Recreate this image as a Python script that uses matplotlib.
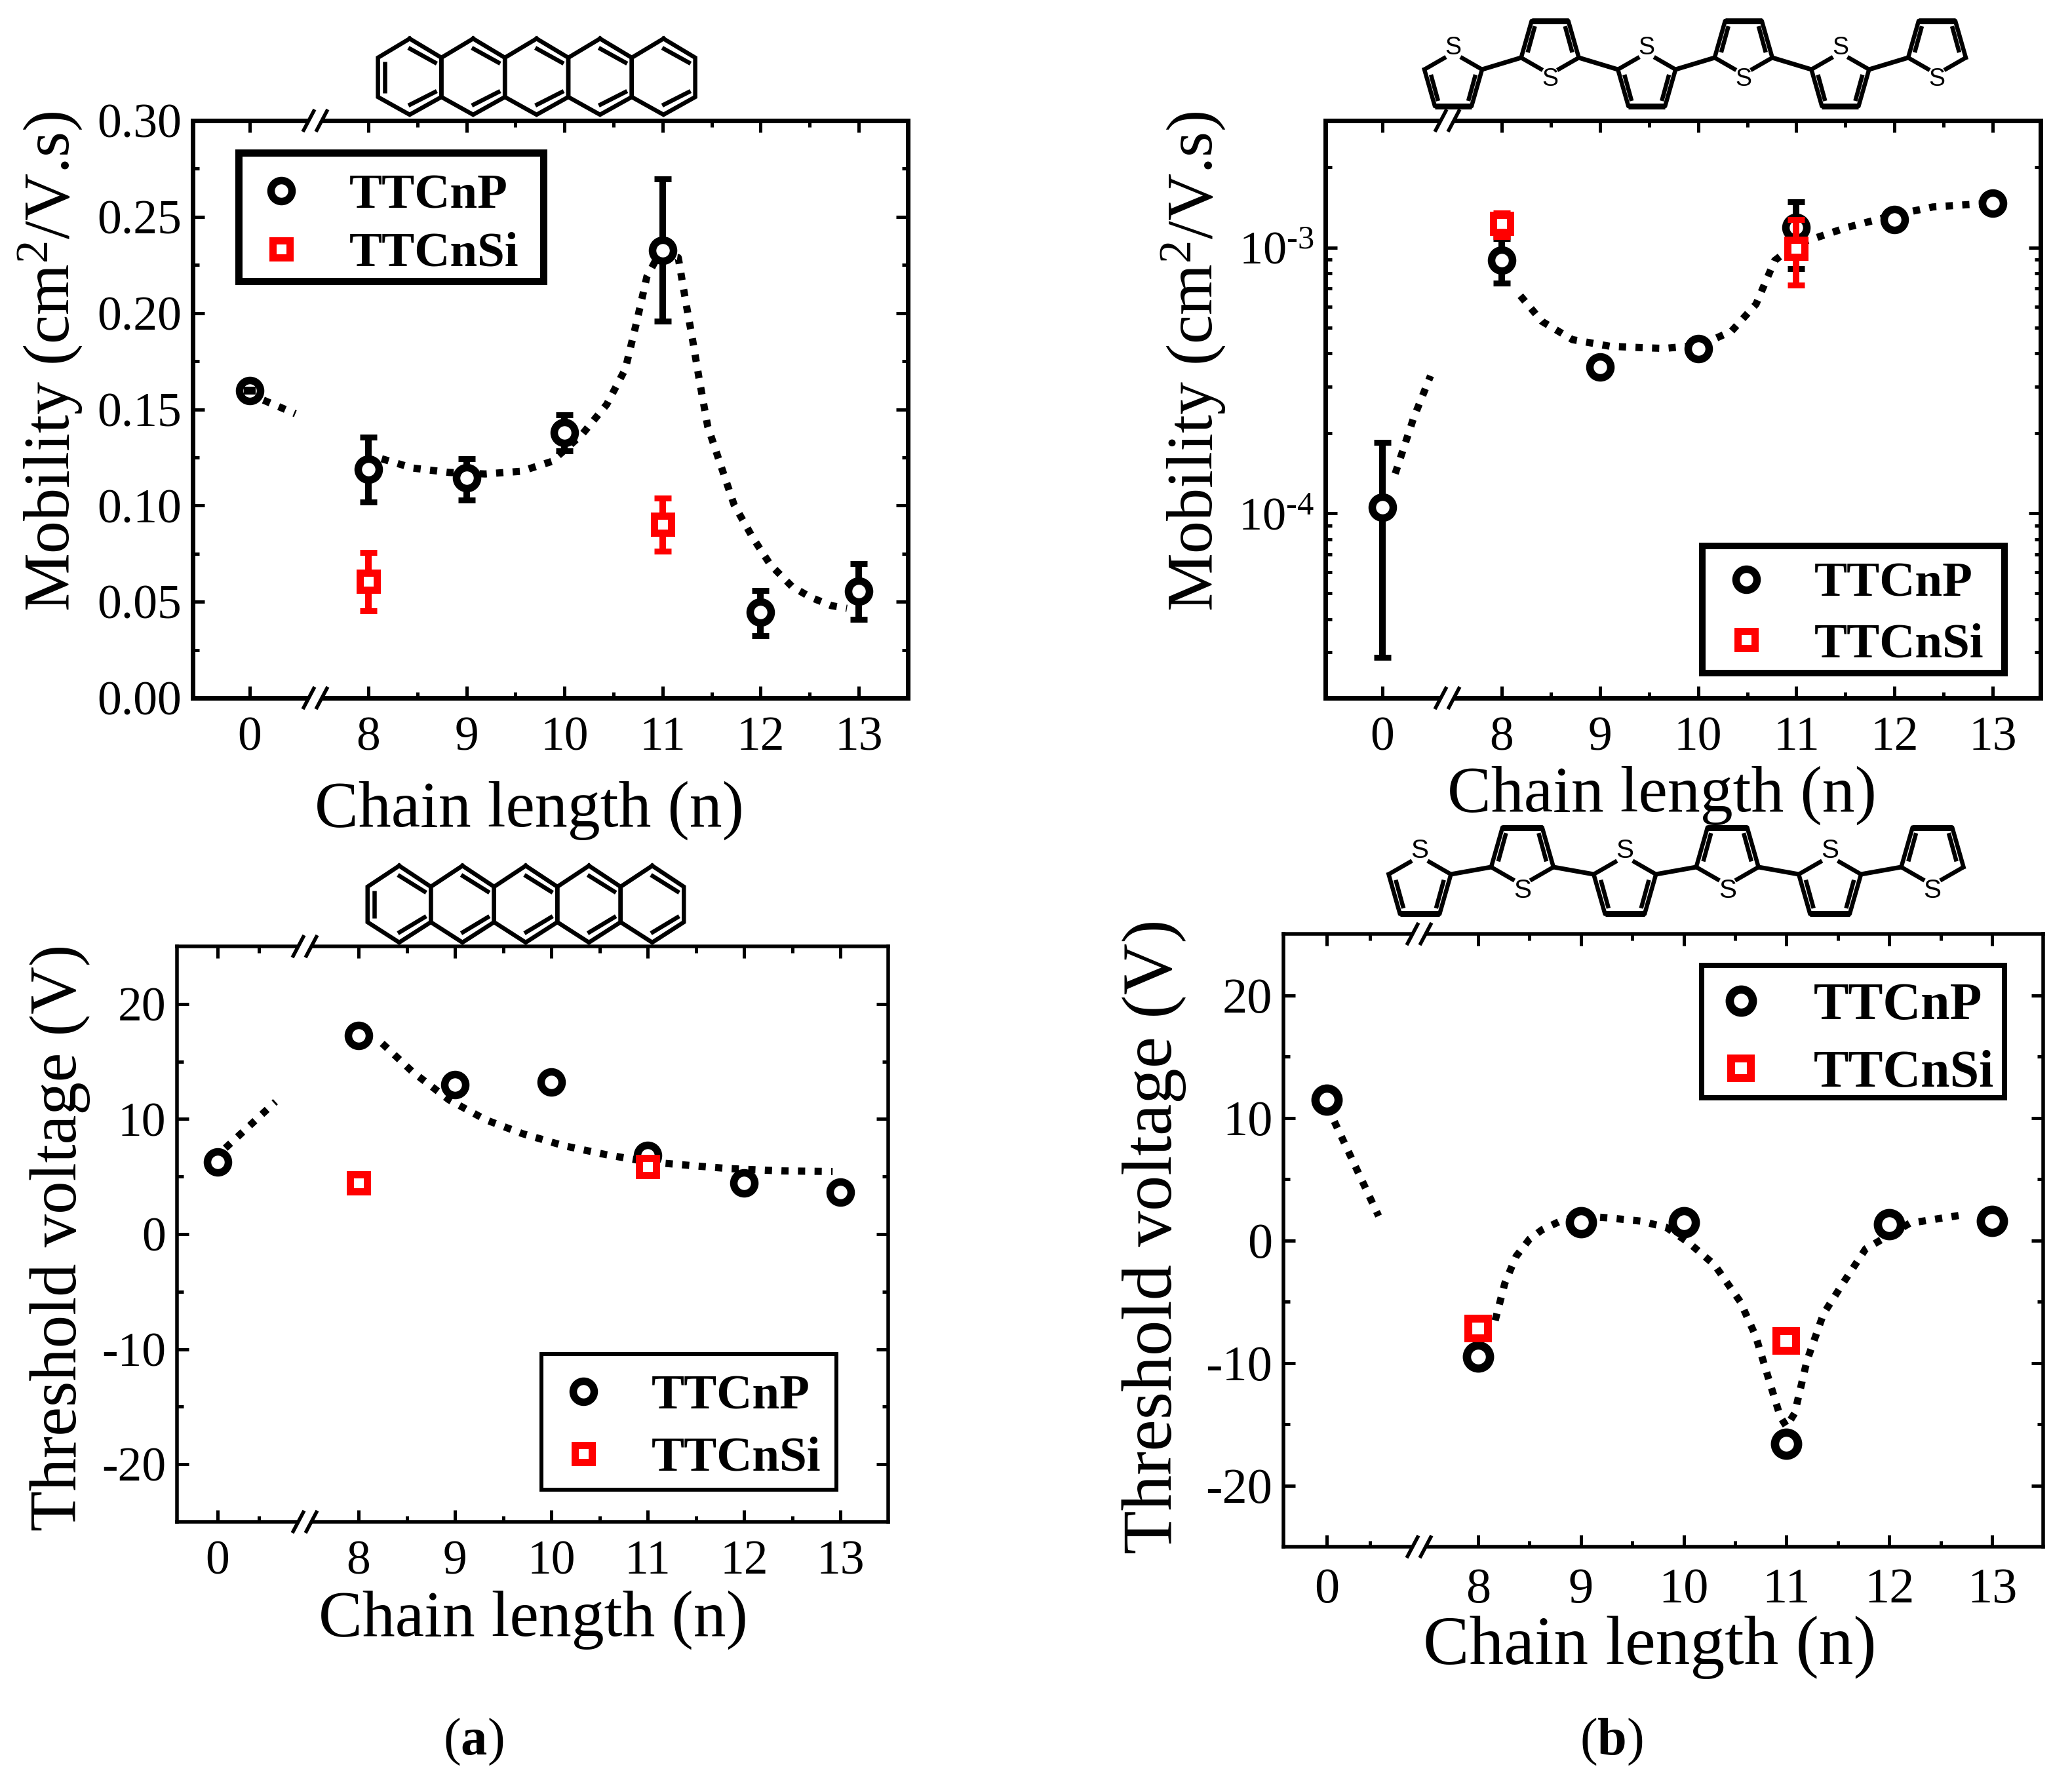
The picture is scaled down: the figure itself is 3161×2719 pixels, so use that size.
import numpy as np
import matplotlib
matplotlib.use("Agg")
from matplotlib import pyplot as plt
from matplotlib.patches import Rectangle
from matplotlib.ticker import FixedLocator, NullFormatter

W, H = 3161, 2719

plt.rcParams['font.family'] = ['Liberation Serif', 'DejaVu Serif']
plt.rcParams['mathtext.fontset'] = 'custom'
plt.rcParams['mathtext.rm'] = 'Liberation Serif'
plt.rcParams['mathtext.it'] = 'Liberation Serif:italic'
plt.rcParams['mathtext.bf'] = 'Liberation Serif:bold'
plt.rcParams['axes.unicode_minus'] = False

# ---- data ----
chain = [0, 8, 9, 10, 11, 12, 13]
chain_si = [8, 11]

# mobility, pentacene core
mob_p_a = [0.1596, 0.1189, 0.1144, 0.1379, 0.2325, 0.0446, 0.0556]
mob_p_a_low = [np.nan, 0.1017, 0.1030, 0.1285, 0.1958, 0.0325, 0.0410]
mob_p_a_high = [np.nan, 0.1356, 0.1243, 0.1470, 0.2698, 0.0560, 0.0698]
mob_si_a = [0.0607, 0.0901]
mob_si_a_low = [0.0452, 0.0763]
mob_si_a_high = [0.0757, 0.1037]
mob_stub_a_x = [0.0, 0.11, 0.465]
mob_stub_a_y = [0.1596, 0.1554, 0.1477]
mob_fit_a_x = [8.136, 8.45, 8.82, 9.19, 9.56, 9.87, 10.18, 10.43, 10.62, 10.74, 10.84, 10.96,
               11.16, 11.24, 11.30, 11.37, 11.46, 11.58, 11.73, 11.92, 12.10, 12.32, 12.51, 12.72, 12.88]
mob_fit_a_y = [0.1243, 0.1195, 0.1172, 0.1164, 0.1178, 0.1229, 0.137, 0.1525, 0.1709, 0.1963, 0.2189, 0.2302,
               0.2288, 0.2048, 0.1879, 0.1667, 0.1412, 0.1229, 0.1003, 0.0833, 0.0692, 0.0579, 0.0523, 0.048, 0.0466]

# mobility, thiophene core
mob_p_b = [1.055e-4, 8.93e-4, 3.55e-4, 4.15e-4, 1.186e-3, 1.27e-3, 1.47e-3]
mob_p_b_low = [2.87e-5, 7.33e-4, np.nan, np.nan, 8.3e-4, np.nan, np.nan]
mob_p_b_high = [1.845e-4, 1.08e-3, np.nan, np.nan, 1.48e-3, np.nan, np.nan]
mob_si_b = [1.23e-3, 9.9e-4]
mob_si_b_low = [1.10e-3, 7.2e-4]
mob_si_b_high = [1.35e-3, 1.27e-3]
mob_stub_b_x = [0.13, 0.317, 0.49]
mob_stub_b_y = [1.41e-4, 2.28e-4, 3.29e-4]
mob_fit_b_x = [8.19, 8.41, 8.72, 9.1, 9.41, 9.66, 10.03, 10.34, 10.59, 10.78, 11.0, 11.21, 11.52, 12.02, 12.39, 12.76, 12.9]
mob_fit_b_y = [6.58e-4, 5.27e-4, 4.5e-4, 4.25e-4, 4.2e-4, 4.17e-4, 4.3e-4, 4.84e-4, 6.12e-4, 8.93e-4, 1.03e-3,
               1.09e-3, 1.19e-3, 1.33e-3, 1.42e-3, 1.45e-3, 1.46e-3]

# threshold voltage, pentacene core
vth_p_a = [6.27, 17.25, 12.96, 13.2, 6.85, 4.44, 3.66]
vth_si_a = [4.44, 5.85]
vth_stub_a_x = [0.08, 0.60]
vth_stub_a_y = [7.47, 11.5]
vth_fit_a_x = [8.245, 8.56, 8.94, 9.32, 9.7, 10.13, 10.57, 11.01, 11.39, 11.83, 12.39, 12.92]
vth_fit_a_y = [16.57, 14.1, 11.66, 9.93, 8.73, 7.68, 6.9, 6.27, 6.0, 5.7, 5.49, 5.44]

# threshold voltage, thiophene core
vth_p_b = [11.46, -9.5, 1.47, 1.47, -16.6, 1.3, 1.6]
vth_si_b = [-7.2, -8.2]
vth_stub_b_x = [0.074, 0.505]
vth_stub_b_y = [9.7, 1.98]
vth_fit_b_x = [8.166, 8.26, 8.37, 8.5, 8.62, 8.8, 9.0, 9.27, 9.58, 9.83, 10.05, 10.3, 10.55, 10.7, 10.83, 10.94, 11.0,
               11.08, 11.2, 11.36, 11.55, 11.77, 12.2, 12.72]
vth_fit_b_y = [-6.54, -3.5, -1.3, 0.1, 0.85, 1.57, 2.0, 1.83, 1.57, 1.06, -0.2, -2, -5, -7.8, -11.4, -14.4, -15.2,
               -14.1, -9.8, -6, -3.5, -0.7, 1.4, 2.08]

x_ticklabels = ['0', '8', '9', '10', '11', '12', '13']
series_names = ['TTCnP', 'TTCnSi']

fig = plt.figure(figsize=(W / 100, H / 100), dpi=100, facecolor='white')

overlay = fig.add_axes([0, 0, 1, 1], zorder=10)
overlay.set_xlim(0, W)
overlay.set_ylim(H, 0)
overlay.axis('off')


def px(v):
    # pixels to points at this dpi
    return v * 0.72


def break_mark(cx, y):
    overlay.fill([cx - 19, cx - 1, cx + 19, cx + 1], [y + 17, y - 17, y - 17, y + 17],
                 color='white', lw=0, zorder=1)
    for off in (-10, 10):
        overlay.plot([cx + off - 9, cx + off + 9], [y + 17, y - 17], color='k', lw=px(5.5),
                     solid_capstyle='butt', zorder=2)


def pentacene(cx0, step, y_top, y_sh1, y_sh2, y_bot):
    lw = px(6.5)
    half = step / 2
    for i in range(5):
        cx = cx0 + i * step
        xs = [cx, cx + half, cx + half, cx, cx - half, cx - half, cx]
        ys = [y_top, y_sh1, y_sh2, y_bot, y_sh2, y_sh1, y_top]
        overlay.plot(xs, ys, color='k', lw=lw, solid_joinstyle='miter')
        # inner lines of the double bonds
        overlay.plot([cx - 2, cx + half - 7], [y_top + 14, y_sh1 + 9], color='k', lw=lw, solid_capstyle='butt')
        overlay.plot([cx - 2, cx + half - 7], [y_bot - 14, y_sh2 - 9], color='k', lw=lw, solid_capstyle='butt')
    left = cx0 - half + 10
    overlay.plot([left, left], [y_sh1 + 6, y_sh2 - 6], color='k', lw=lw, solid_capstyle='butt')


def thiophenes(cx0, step, y_up, y_down, s):
    lw = px(6.5)
    ends = []
    for i in range(6):
        cx = cx0 + i * step
        flip = 1 if i % 2 == 0 else -1
        y_sh = y_up if flip == 1 else y_down
        y_far = y_sh + flip * 56 * s
        y_s = y_sh - flip * 33 * s
        hw, bw = 44 * s, 28 * s
        # ring without the sulfur vertex
        overlay.plot([cx - hw, cx - bw, cx + bw, cx + hw], [y_sh, y_far, y_far, y_sh], color='k', lw=lw)
        overlay.plot([cx - bw, cx + bw], [y_far, y_far], color='k', lw=px(9), solid_capstyle='butt')
        # inner lines of the double bonds
        for side in (-1, 1):
            overlay.plot([cx + side * (hw - 10 * s), cx + side * (bw - 5 * s)],
                         [y_sh + flip * 8 * s, y_far - flip * 8 * s], color='k', lw=lw, solid_capstyle='butt')
            overlay.plot([cx + side * hw, cx + side * 11 * s], [y_sh, y_s + flip * 14 * s], color='k', lw=lw,
                         solid_capstyle='butt')
        overlay.text(cx, y_s, 'S', family='Liberation Sans', fontsize=27 * s, ha='center', va='center', color='k')
        ends.append((cx - hw, cx + hw, y_sh))
    for a, b in zip(ends[:-1], ends[1:]):
        overlay.plot([a[1], b[0]], [a[2], b[2]], color='k', lw=px(7), solid_capstyle='butt')


def draw_panel(rect, x0_px, x8_px, unit, ylim, p, si, stub, fit, ylabel, ylab_xy, xlab_xy,
               leg_xy, leg_fs, leg_box, leg_frame, leg_space, y_major, y_minor, yfs, xfs, lab_fs, xlab_fs,
               spine=7.0, p_err=None, si_err=None, extra_minor=None, log=False, pad_x=20, pad_y=12, ms_scale=1.0):
    left, right, top, bottom = rect
    ax = fig.add_axes([left / W, 1 - bottom / H, (right - left) / W, (bottom - top) / H])
    gap = (x8_px - x0_px) / unit

    def pos(vals):
        # axis position of a chain length, with the 0-8 break taken out
        return [0 if v == 0 else gap + v - 8 for v in vals]

    ax.set_xlim((left - x0_px) / unit, (right - x0_px) / unit)
    if log:
        ax.set_yscale('log')
    ax.set_ylim(*ylim)

    # fitted guides behind everything
    dots = dict(color='k', lw=px(11), ls=(0, (1, 1.3)), dash_capstyle='butt', zorder=1)
    ax.plot(stub[0], stub[1], **dots)
    ax.plot(pos(fit[0]), fit[1], **dots)

    err_kw = dict(fmt='none', elinewidth=px(10), capsize=px(13.5), capthick=px(9))
    if p_err is not None:
        p_arr = np.array(p)
        ax.errorbar(pos(chain), p, yerr=[p_arr - np.array(p_err[0]), np.array(p_err[1]) - p_arr],
                    ecolor='k', zorder=2, **err_kw)
    line_p, = ax.plot(pos(chain), p, 'o', ms=px(32) * ms_scale, mew=px(11.5) * ms_scale, mec='k', mfc='white',
                      ls='none', zorder=3, label=series_names[0])
    if si_err is not None:
        si_arr = np.array(si)
        ax.errorbar(pos(chain_si), si, yerr=[si_arr - np.array(si_err[0]), np.array(si_err[1]) - si_arr],
                    ecolor='#ff0000', zorder=4, **err_kw)
    line_si, = ax.plot(pos(chain_si), si, 's', ms=px(27) * ms_scale, mew=px(11) * ms_scale, mec='#ff0000', mfc='white',
                       ls='none', zorder=5, label=series_names[1])

    ax.set_xticks(pos(chain))
    ax.set_xticklabels(x_ticklabels)
    minors = pos([8.5, 9.5, 10.5, 11.5, 12.5])
    if extra_minor is not None:
        minors = [extra_minor] + minors
    ax.xaxis.set_minor_locator(FixedLocator(minors))
    ax.yaxis.set_major_locator(FixedLocator(y_major[0]))
    ax.set_yticklabels(y_major[1])
    ax.yaxis.set_minor_locator(FixedLocator(y_minor))
    ax.yaxis.set_minor_formatter(NullFormatter())

    for side in ax.spines.values():
        side.set_linewidth(px(spine))
    ax.tick_params(which='major', direction='in', top=True, right=True, length=px(18), width=px(5))
    ax.tick_params(which='minor', direction='in', top=True, right=True, length=px(9.5), width=px(5))
    ax.tick_params(axis='x', which='major', labelsize=xfs, pad=pad_x)
    ax.tick_params(axis='y', which='major', labelsize=yfs, pad=pad_y)

    fig.text(ylab_xy[0] / W, 1 - ylab_xy[1] / H, ylabel, rotation=90, ha='center', va='center', fontsize=lab_fs)
    fig.text(xlab_xy[0] / W, 1 - xlab_xy[1] / H, 'Chain length (n)', ha='center', va='center', fontsize=xlab_fs)

    leg = ax.legend(handles=[line_p, line_si], loc='upper left',
                    bbox_to_anchor=((leg_xy[0] - left) / (right - left), (bottom - leg_xy[1]) / (bottom - top)),
                    borderaxespad=0, borderpad=0.38, handlelength=1.09, handletextpad=0.84, labelspacing=leg_space,
                    frameon=False, numpoints=1, prop=dict(weight='bold', size=leg_fs))
    leg.set_zorder(6)
    # frame drawn apart, a legend box cannot take different side and top paddings
    x1, x2, y1, y2 = leg_box
    inset = leg_frame / 2
    overlay.add_patch(Rectangle((x1 + inset, y1 + inset), x2 - x1 - leg_frame, y2 - y1 - leg_frame, fill=False,
                                edgecolor='k', lw=px(leg_frame), joinstyle='miter'))
    return ax


log_minor = [m * 10.0 ** e for e in (-5, -4, -3) for m in range(2, 10)]

ax_a = draw_panel((294, 1385, 184, 1065), 381, 562, 149.6, (0, 0.30),
                  mob_p_a, mob_si_a, (mob_stub_a_x, mob_stub_a_y), (mob_fit_a_x, mob_fit_a_y),
                  'Mobility (cm$^{2}$/V.s)', (77, 551), (807, 1237),
                  (360, 236), 54, (358, 834, 227, 434), 11, 0.27,
                  ([0, 0.05, 0.10, 0.15, 0.20, 0.25, 0.30], ['0.00', '0.05', '0.10', '0.15', '0.20', '0.25', '0.30']),
                  [0.025, 0.075, 0.125, 0.175, 0.225, 0.275], 53, 53, 72, 72,
                  p_err=(mob_p_a_low, mob_p_a_high), si_err=(mob_si_a_low, mob_si_a_high))
# the n=0 error is so small that its caps sit inside the open circle
ax_a.errorbar([0], [mob_p_a[0]], yerr=[[0.001]], fmt='none', ecolor='k', elinewidth=px(6), capsize=px(9),
              capthick=px(6), zorder=3.5)

ax_b = draw_panel((2022, 3113, 184, 1065), 2109, 2291, 149.8, (2.02e-5, 3.0e-3),
                  mob_p_b, mob_si_b, (mob_stub_b_x, mob_stub_b_y), (mob_fit_b_x, mob_fit_b_y),
                  'Mobility (cm$^{2}$/V.s)', (1821, 551), (2535, 1214),
                  (2595, 829), 54, (2592, 3063, 828, 1032), 10, 0.32,
                  ([1e-4, 1e-3], [r'10$^{\text{-}4}$', r'10$^{\text{-}3}$']), log_minor, 52, 53, 72, 72,
                  p_err=(mob_p_b_low, mob_p_b_high), si_err=(mob_si_b_low, mob_si_b_high), log=True)

ax_c = draw_panel((270, 1355, 1444, 2322), 332, 547, 147, (-25, 25),
                  vth_p_a, vth_si_a, (vth_stub_a_x, vth_stub_a_y), (vth_fit_a_x, vth_fit_a_y),
                  'Threshold voltage (V)', (92, 1888), (813, 2472),
                  (821, 2068), 54, (823, 1279, 2063, 2276), 6, 0.35,
                  ([-20, -10, 0, 10, 20], ['-20', '-10', '0', '10', '20']),
                  [-15, -5, 5, 15], 53, 53, 72.5, 72, spine=5.5, extra_minor=0.43)

ax_d = draw_panel((1958, 3117, 1425, 2360), 2024, 2255, 156.8, (-25, 25),
                  vth_p_b, vth_si_b, (vth_stub_b_x, vth_stub_b_y), (vth_fit_b_x, vth_fit_b_y),
                  'Threshold voltage (V)', (1761, 1887), (2517, 2514),
                  (2582, 1469), 57.5, (2592, 3062, 1469, 1679), 8, 0.37,
                  ([-20, -10, 0, 10, 20], ['-20', '-10', '0', '10', '20']),
                  [-15, -5, 5, 15], 55, 55, 78.5, 76, spine=5.5, extra_minor=0.42, pad_x=23, ms_scale=1.1)

for cx, y in [(481, 184), (481, 1065), (2208, 184), (2208, 1065),
              (465, 1444), (465, 2322), (2165, 1425), (2165, 2360)]:
    break_mark(cx, y)

pentacene(625, 96.8, 59, 88, 148, 175)
pentacene(609, 96.5, 1321, 1353, 1407, 1438)
thiophenes(2217, 147.6, 106, 88, 1.0)
thiophenes(2166, 156.4, 1334, 1323, 1.08)

fig.text(722 / W, 1 - 2658 / H, r'($\mathbf{a}$)', ha='center', va='center', fontsize=58)
fig.text(2458 / W, 1 - 2658 / H, r'($\mathbf{b}$)', ha='center', va='center', fontsize=58)

fig.savefig('out.png', dpi=100, facecolor='white')
